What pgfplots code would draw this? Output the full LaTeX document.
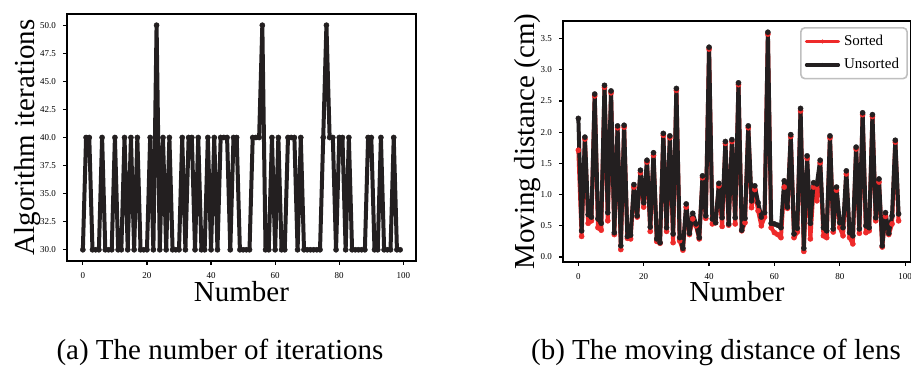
\documentclass[border=0pt]{standalone}
\usepackage{fontspec}
\setmainfont{Liberation Serif}
\usepackage{pgfplots}
\pgfplotsset{compat=1.18}
\definecolor{blk}{HTML}{231F20}
\definecolor{redc}{HTML}{EE2A2A}
\pgfplotsset{
  panel/.style={
    scale only axis,
    axis line style={line width=0.8pt, black},
    tick align=outside, xtick pos=bottom, ytick pos=left,
    major tick length=2pt,
    every tick/.style={line width=0.6pt, black},
    tick label style={font=\fontsize{4.5}{5}\selectfont},
    /pgf/number format/assume math mode=true,
    xtick={0,20,40,60,80,100},
    label style={font=\fontsize{14.5}{16}\selectfont},
    xlabel style={at={(axis description cs:0.5,0)}, anchor=base},
    yticklabel style={/pgf/number format/.cd, fixed, fixed zerofill, precision=1},
    clip=false,
  },
  blkline/.style={color=blk, line width=2pt, line join=round, line cap=round, mark=*, mark size=1.3pt, mark options={draw=blk, fill=blk, line width=0.2pt}},
  redline/.style={color=redc, line width=2pt, line join=round, line cap=round, mark=*, mark size=1.3pt, mark options={draw=redc, fill=redc, line width=0.2pt}},
}
\begin{document}
\begin{tikzpicture}
% Left panel
\begin{axis}[panel,
  at={(33.5pt,-7pt)}, anchor=north west,
  width=174.5pt, height=123.5pt,
  xmin=-4.95, xmax=103.95, ymin=29, ymax=51,
  ytick={30,32.5,35,37.5,40,42.5,45,47.5,50},
  xlabel={Number}, ylabel={Algorithm iterations},
  xlabel style={yshift=-20.5pt},
  ylabel style={at={(axis description cs:-0.112,0.5)}, anchor=center},
]
\addplot[blkline] coordinates {
(0,30)(1,40)(2,40)(3,30)(4,30)(5,30)(6,40)(7,30)(8,30)(9,30)
(10,40)(11,30)(12,30)(13,40)(14,30)(15,40)(16,30)(17,40)(18,30)(19,30)
(20,30)(21,40)(22,30)(23,50)(24,30)(25,40)(26,30)(27,40)(28,30)(29,30)
(30,30)(31,40)(32,30)(33,40)(34,40)(35,30)(36,40)(37,30)(38,30)(39,40)
(40,30)(41,40)(42,30)(43,40)(44,40)(45,40)(46,30)(47,40)(48,40)(49,30)
(50,30)(51,30)(52,30)(53,40)(54,40)(55,40)(56,50)(57,30)(58,30)(59,40)
(60,30)(61,40)(62,30)(63,30)(64,40)(65,40)(66,40)(67,30)(68,40)(69,30)
(70,30)(71,30)(72,30)(73,30)(74,30)(75,40)(76,50)(77,40)(78,40)(79,30)
(80,40)(81,40)(82,30)(83,40)(84,30)(85,30)(86,30)(87,30)(88,30)(89,40)
(90,40)(91,30)(92,30)(93,40)(94,30)(95,30)(96,30)(97,40)(98,30)(99,30)
};
\end{axis}
% Right panel
\begin{axis}[panel,
  at={(281.5pt,-10.5pt)}, anchor=north west,
  width=174pt, height=120.5pt,
  xmin=-4.7, xmax=101.8, ymin=-0.08, ymax=3.78,
  ytick={0,0.5,1,1.5,2,2.5,3,3.5},
  xlabel={Number}, ylabel={Moving distance (cm)},
  xlabel style={yshift=-20pt},
  ylabel style={at={(axis description cs:-0.103,0.5)}, anchor=center},
  legend style={at={(0.991,0.975)}, anchor=north east, draw=black!25, line width=0.8pt,
    rounded corners=2pt, font=\fontsize{7.5}{9}\selectfont, row sep=1pt,
    inner xsep=2pt, inner ysep=1.5pt},
  legend cell align=left,
  legend image code/.code={\draw[#1, line width=1.6pt, mark size=0.9pt, mark repeat=2, mark phase=2] plot coordinates {(0pt,0pt)(8pt,0pt)(16pt,0pt)};},
]
\addplot[redline] coordinates {
(0,1.71)(1,0.33)(2,1.89)(3,0.54)(4,0.58)(5,2.58)(6,0.47)(7,0.43)(8,2.72)(9,0.58)
(10,2.63)(11,0.36)(12,2.07)(13,0.12)(14,2.08)(15,0.30)(16,0.29)(17,1.12)(18,0.64)(19,1.35)
(20,0.80)(21,1.52)(22,0.41)(23,1.63)(24,0.25)(25,0.22)(26,1.95)(27,0.41)(28,1.91)(29,0.23)
(30,2.67)(31,0.26)(32,0.11)(33,0.80)(34,0.36)(35,0.61)(36,0.50)(37,0.29)(38,1.27)(39,0.62)
(40,3.33)(41,0.53)(42,0.55)(43,1.14)(44,0.49)(45,1.82)(46,0.51)(47,1.85)(48,0.53)(49,2.76)
(50,0.42)(51,0.55)(52,2.07)(53,0.79)(54,1.08)(55,0.74)(56,0.50)(57,0.64)(58,3.57)(59,0.47)
(60,0.39)(61,0.36)(62,0.31)(63,1.12)(64,0.78)(65,1.93)(66,0.31)(67,0.40)(68,2.34)(69,0.09)
(70,1.58)(71,0.29)(72,1.12)(73,0.90)(74,1.51)(75,0.34)(76,0.31)(77,1.91)(78,0.40)(79,1.07)
(80,0.47)(81,0.34)(82,1.33)(83,0.31)(84,0.21)(85,1.73)(86,0.38)(87,2.28)(88,0.39)(89,0.42)
(90,2.25)(91,0.58)(92,1.20)(93,0.16)(94,0.65)(95,0.36)(96,0.53)(97,1.84)(98,0.58)
};
\addlegendentry{Sorted}
\addplot[blkline] coordinates {
(0,2.22)(1,0.42)(2,1.92)(3,0.68)(4,0.64)(5,2.61)(6,0.61)(7,0.54)(8,2.75)(9,0.71)
(10,2.66)(11,0.39)(12,2.10)(13,0.18)(14,2.11)(15,0.33)(16,0.35)(17,1.16)(18,0.66)(19,1.39)
(20,0.87)(21,1.55)(22,0.48)(23,1.67)(24,0.29)(25,0.23)(26,1.98)(27,0.47)(28,1.94)(29,0.37)
(30,2.70)(31,0.31)(32,0.14)(33,0.85)(34,0.38)(35,0.70)(36,0.53)(37,0.31)(38,1.30)(39,0.66)
(40,3.36)(41,0.61)(42,0.55)(43,1.18)(44,0.63)(45,1.85)(46,0.53)(47,1.88)(48,0.63)(49,2.79)
(50,0.43)(51,0.62)(52,2.10)(53,0.90)(54,1.14)(55,0.87)(56,0.64)(57,0.71)(58,3.60)(59,0.54)
(60,0.53)(61,0.51)(62,0.47)(63,1.22)(64,0.80)(65,1.96)(66,0.37)(67,0.46)(68,2.38)(69,0.14)
(70,1.62)(71,0.54)(72,1.19)(73,1.17)(74,1.55)(75,0.47)(76,0.42)(77,1.94)(78,0.45)(79,1.12)
(80,0.55)(81,0.47)(82,1.38)(83,0.39)(84,0.34)(85,1.76)(86,0.45)(87,2.31)(88,0.50)(89,0.47)
(90,2.28)(91,0.63)(92,1.25)(93,0.18)(94,0.71)(95,0.38)(96,0.66)(97,1.87)(98,0.69)
};
\addlegendentry{Unsorted}
\end{axis}
\node[font=\fontsize{14.5}{16}\selectfont, anchor=base] at (110pt,-180pt) {(a) The number of iterations};
\node[font=\fontsize{14.5}{16}\selectfont, anchor=base] at (358pt,-180pt) {(b) The moving distance of lens};
\pgfresetboundingbox
\path (0,0) rectangle (455.5pt,-183.5pt);
\end{tikzpicture}
\end{document}
